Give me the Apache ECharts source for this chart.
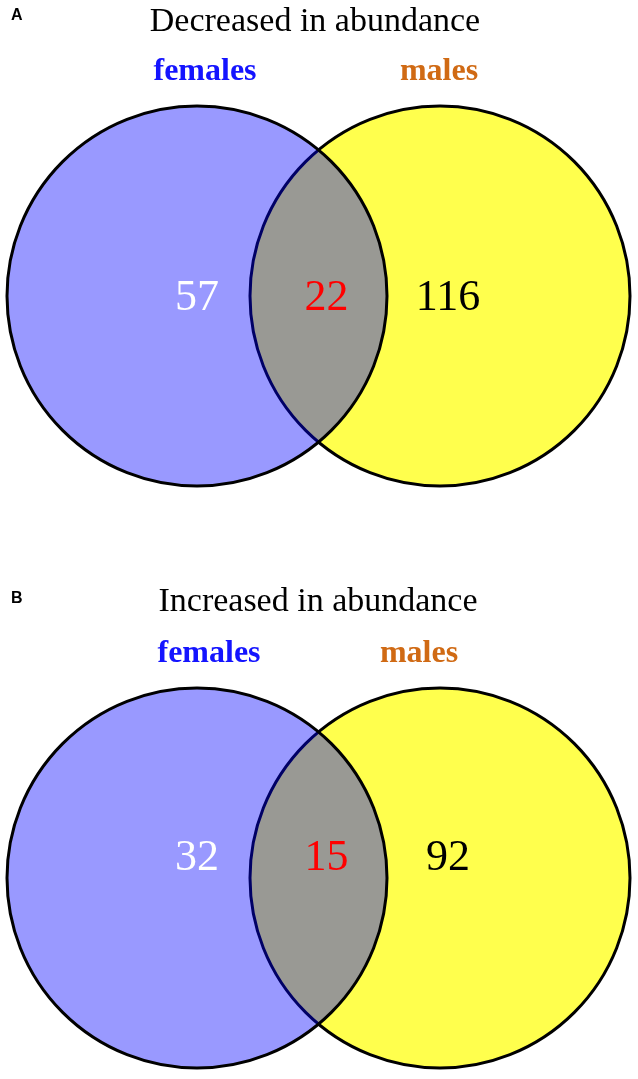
<!DOCTYPE html>
<html>
<head>
<meta charset="utf-8">
<script src="https://cdn.jsdelivr.net/npm/echarts@6/dist/echarts.min.js"></script>
<style>
  html, body { margin: 0; padding: 0; background: #fff; }
  #chart { width: 638px; height: 1079px; }
</style>
</head>
<body>
<div id="chart"></div>
<script>
// panels and counts
const panelLetters = ['A', 'B']
const panelTitles = ['Decreased in abundance', 'Increased in abundance']
const setNames = ['females', 'males']
const onlyFemales = [57, 32]
const shared = [22, 15]
const onlyMales = [116, 92]

// circle layout (page pixels used as data units)
const panelCenterY = [296, 878]
const countY = [298, 858]
const circleX = [197, 440]
const circleR = 190

const serif = '"Liberation Serif", "Times New Roman", serif'

// circles: yellow (males) first, translucent blue (females) on top
const circles = []
panelCenterY.forEach(cy => {
  circles.push([circleX[1], cy, circleR, 'rgb(255,255,77)'])
  circles.push([circleX[0], cy, circleR, 'rgba(0,0,255,0.4)'])
})

const countPoints = []
countY.forEach((y, i) => {
  countPoints.push({ value: [circleX[0], y], name: String(onlyFemales[i]), label: { color: '#ffffff' } })
  countPoints.push({ value: [(circleX[0] + circleX[1]) / 2 + 8, y], name: String(shared[i]), label: { color: '#ff0000' } })
  countPoints.push({ value: [circleX[1] + 8, y], name: String(onlyMales[i]), label: { color: '#000000' } })
})

const setLabelPoints = []
panelCenterY.forEach((cy, i) => {
  setLabelPoints.push({ value: [circleX[0] + 8 + i * 4, cy - 224], name: setNames[0], label: { color: '#1414ff' } })
  setLabelPoints.push({ value: [circleX[1] - 1 - i * 20, cy - 224], name: setNames[1], label: { color: '#d06a14' } })
})

const chart = echarts.init(document.getElementById('chart'))

chart.setOption({
  animation: false,
  title: [
    { text: panelLetters[0], left: 6, top: 3, textStyle: { fontFamily: 'Liberation Sans', fontWeight: 'bold', fontSize: 16, color: '#000' } },
    { text: panelTitles[0], left: 310, top: 0, textAlign: 'center', textStyle: { fontFamily: serif, fontWeight: 'normal', fontSize: 34, color: '#000' } },
    { text: panelLetters[1], left: 6, top: 586, textStyle: { fontFamily: 'Liberation Sans', fontWeight: 'bold', fontSize: 16, color: '#000' } },
    { text: panelTitles[1], left: 313, top: 580, textAlign: 'center', textStyle: { fontFamily: serif, fontWeight: 'normal', fontSize: 34, color: '#000' } }
  ],
  grid: { left: 0, right: 0, top: 0, bottom: 0 },
  xAxis: { type: 'value', min: 0, max: 638, show: false },
  yAxis: { type: 'value', min: 0, max: 1079, inverse: true, show: false },
  series: [
    {
      type: 'custom',
      data: circles,
      renderItem: (params, api) => {
        const c = api.coord([api.value(0), api.value(1)])
        const r = api.size([api.value(2), 0])[0]
        return {
          type: 'circle',
          shape: { cx: c[0], cy: c[1], r: r },
          style: { fill: circles[params.dataIndex][3], stroke: '#000', lineWidth: 3 }
        }
      },
      silent: true
    },
    {
      type: 'scatter',
      symbolSize: 0,
      itemStyle: { opacity: 1 },
      data: countPoints,
      label: {
        show: true,
        position: 'inside',
        formatter: p => p.name,
        fontFamily: serif,
        fontSize: 44
      },
      silent: true
    },
    {
      type: 'scatter',
      symbolSize: 0,
      itemStyle: { opacity: 1 },
      data: setLabelPoints,
      label: {
        show: true,
        position: 'inside',
        formatter: p => p.name,
        fontFamily: serif,
        fontWeight: 'bold',
        fontSize: 32
      },
      silent: true
    }
  ]
})
</script>
</body>
</html>
